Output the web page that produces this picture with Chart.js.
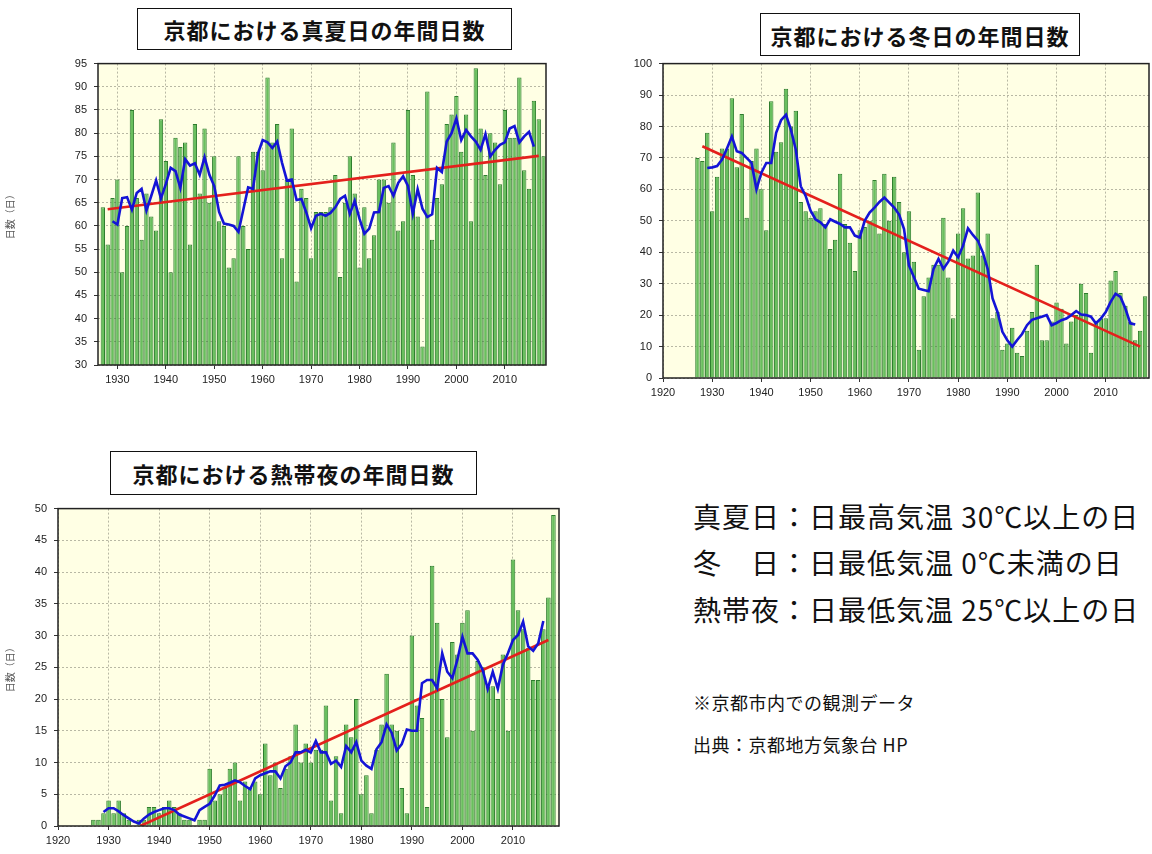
<!DOCTYPE html>
<html>
<head>
<meta charset="utf-8">
<script src="https://cdn.jsdelivr.net/npm/chart.js@4.4.0/dist/chart.umd.min.js"></script>
<style>
  body { margin: 0; width: 1152px; height: 854px; background: #fff; position: relative; overflow: hidden;
         font-family: "Noto Sans CJK JP", "Noto Sans", sans-serif; color: #111; }
  .box { position: absolute; border: 1.5px solid #111; background: #fff; font-weight: bold; font-size: 22px;
         display: flex; align-items: center; justify-content: center; box-sizing: border-box; letter-spacing: 1px; }
  .cv { position: absolute; }
  .note { position: absolute; left: 693px; font-size: 28px; white-space: nowrap; line-height: 1; letter-spacing: 1px; }
  .small { position: absolute; left: 693px; font-size: 18px; white-space: nowrap; line-height: 1; letter-spacing: 0.5px; }
</style>
</head>
<body>

<canvas id="hot" class="cv" width="560" height="340" style="left:0;top:50px"></canvas>
<canvas id="cold" class="cv" width="592" height="353" style="left:560px;top:50px"></canvas>
<canvas id="trop" class="cv" width="575" height="356" style="left:0;top:495px"></canvas>

<div class="box" style="left:137px;top:8px;width:375px;height:42px">京都における真夏日の年間日数</div>
<div class="box" style="left:760px;top:13px;width:320px;height:43px">京都における冬日の年間日数</div>
<div class="box" style="left:110px;top:451px;width:367px;height:44px">京都における熱帯夜の年間日数</div>

<div class="note" style="top:502px">真夏日：日最高気温 30℃以上の日</div>
<div class="note" style="top:548px">冬　日：日最低気温 0℃未満の日</div>
<div class="note" style="top:595px">熱帯夜：日最低気温 25℃以上の日</div>
<div class="small" style="top:693px">※京都市内での観測データ</div>
<div class="small" style="top:735px">出典：京都地方気象台 HP</div>

<script>
// 年（棒は各年に1本）
const years = [
  1927,1928,1929,1930,1931,1932,1933,1934,1935,1936,
  1937,1938,1939,1940,1941,1942,1943,1944,1945,1946,
  1947,1948,1949,1950,1951,1952,1953,1954,1955,1956,
  1957,1958,1959,1960,1961,1962,1963,1964,1965,1966,
  1967,1968,1969,1970,1971,1972,1973,1974,1975,1976,
  1977,1978,1979,1980,1981,1982,1983,1984,1985,1986,
  1987,1988,1989,1990,1991,1992,1993,1994,1995,1996,
  1997,1998,1999,2000,2001,2002,2003,2004,2005,2006,
  2007,2008,2009,2010,2011,2012,2013,2014,2015,2016,
  2017,2018
];
// 5年移動平均の年（1929〜2016）
const meanYears = years.slice(2, 90);

// 真夏日
const hotDays = [
  64,56,66,70,50,60,85,66,57,67,
  62,59,83,74,50,79,77,78,56,82,
  67,81,65,75,61,60,51,53,75,60,
  55,76,76,72,92,78,82,53,70,81,
  48,68,66,53,63,63,63,64,71,49,
  65,75,67,51,64,53,58,70,70,65,
  78,59,61,85,71,62,34,89,57,66,
  69,82,84,88,76,84,61,94,81,71,
  80,78,69,85,79,79,92,72,68,87,
  83,75
];
const hotMean = [
  61,60.3,66,66.2,63.5,67.1,68,63.3,
  66.5,69.8,65.9,69,72.5,71.8,68.2,74.4,73,73.5,
  71,74.8,71,68.6,63,60.5,60.3,60,58.7,63.5,
  68.3,68,75.5,78.5,78,76.8,78.2,73.6,69.8,70,
  65.6,65.8,62.9,59.5,62.2,62.6,62.2,62.8,64,65.8,
  66.5,62.6,65.4,61.5,58.3,59.4,62.9,63,68.2,68.6,
  66.5,69.3,70.7,68.6,62.6,67.9,63.7,61.9,62.5,72.5,
  71.6,78.2,80,83.2,78.5,80.7,79.3,78.2,76.4,79.8,
  75,76.4,77.5,78,81,81.5,78,79.3,80.3,77.1
];
const hotTrendX = [1928, 2017];
const hotTrendY = [63.6, 75.1];

// 冬日
const coldDays = [
  70,69,78,53,64,73,73,89,67,84,
  51,69,73,60,47,88,72,75,92,80,
  85,56,53,51,53,54,49,41,44,65,
  49,43,34,47,48,50,63,46,65,50,
  64,56,40,53,37,9,26,32,36,36,
  51,32,19,46,54,38,39,59,39,46,
  19,21,9,11,16,8,7,15,21,36,
  12,12,18,24,22,11,18,20,30,27,
  8,18,19,19,31,34,27,23,18,12,
  15,26
];
const coldMean = [
  66.8,67,67.4,69.5,73,76.8,72.1,71.6,
  70,68.4,60,65.3,68.4,68.4,78,82,83.7,79,
  72.6,61,57.9,53.2,50.5,49.5,47.9,50.5,49.7,49,
  47.9,47.9,45.3,44.7,50,52.6,54.2,56,57.4,55.8,
  54.2,52,47.4,35.8,32.1,28.4,28,27.6,34.7,37.9,
  34.7,37,40.5,38.4,42.1,47.6,45.5,43.7,40,34.7,
  25.3,21,14.7,12,10,12.1,14,16.8,18.5,19,
  19.5,20,16.8,17.5,18.4,18.9,20,21.3,20.2,20,
  19.5,17.4,18.9,21,24.2,26.8,25.8,22.1,17.4,17
];
const coldTrendX = [1928, 2017];
const coldTrendY = [73.7, 10];

// 熱帯夜
const tropNights = [
  1,1,2,4,2,4,2,1,0,1,
  1,3,3,2,3,4,3,2,1,1,
  0,1,1,9,4,5,6,9,10,4,
  7,6,7,5,13,8,10,6,9,11,
  16,10,13,10,12,12,19,4,11,2,
  16,14,20,5,8,2,12,16,24,16,
  15,6,2,30,19,17,3,41,32,20,
  14,29,27,32,34,15,26,25,22,22,
  20,27,15,42,34,31,28,23,23,31,
  36,49
];
const tropMean = [
  2.2,2.8,2.8,2.3,1.7,1.2,0.7,0.4,
  1.2,1.8,2.2,2.5,2.8,2.8,2.5,1.8,1.5,1.2,
  0.9,2.5,3,3.5,4.8,6.4,6.5,6.8,7.2,6.9,
  6.3,5.8,7.5,8,8.3,8.6,8.6,7.5,9.4,10,
  11.6,11.6,12,11.6,13.4,11.6,11.6,9.8,10.3,9.3,
  12.6,11.6,13.2,10.3,9.5,9,12.1,13.2,16,14.7,
  11.9,12.9,15.2,15,15,22.5,23,23,21.7,27.2,
  24.3,23.3,26.2,29.8,27.2,27.2,26.2,24.6,21.6,24.3,
  21.6,25.4,27.2,29.3,30.1,32.2,28.3,27.6,28.8,32.3
];
const tropTrendX = [1936.3, 2017];
const tropTrendY = [0, 29.3];

// 描画領域の背景と枠
const framePlugin = {
  id: 'frame',
  beforeDraw(chart) {
    const a = chart.chartArea, ctx = chart.ctx;
    ctx.save();
    ctx.fillStyle = '#ffffe4';
    ctx.fillRect(a.left, a.top, a.right - a.left, a.bottom - a.top);
    ctx.restore();
  },
  afterDraw(chart) {
    const a = chart.chartArea, ctx = chart.ctx;
    ctx.save();
    ctx.strokeStyle = '#222';
    ctx.lineWidth = 1.5;
    ctx.strokeRect(a.left, a.top, a.right - a.left, a.bottom - a.top);
    ctx.restore();
  }
};

const pts = (xs, ys) => ys.map((v, i) => ({ x: xs[i], y: v }));
const tickFont = { family: '"Liberation Sans", Arial, sans-serif', size: 11 };

function drawChart(id, o) {
  return new Chart(document.getElementById(id), {
    type: 'bar',
    data: {
      datasets: [
        { type: 'line', data: pts(meanYears, o.mean), borderColor: '#1414d6', borderWidth: 2.6,
          pointRadius: 0, tension: 0, order: 1 },
        { type: 'line', data: pts(o.trendX, o.trendY), borderColor: '#e4201c', borderWidth: 2.6,
          pointRadius: 0, order: 2 },
        { data: pts(years, o.bars), backgroundColor: '#69bf5e', borderColor: '#2e7d2e', borderWidth: 1,
          barPercentage: 0.9, categoryPercentage: 1, order: 3 }
      ]
    },
    options: {
      responsive: false,
      animation: false,
      layout: { padding: o.pad },
      plugins: { legend: { display: false }, tooltip: { enabled: false } },
      scales: {
        x: {
          type: 'linear', min: o.xMin, max: o.xMax, offset: false,
          grid: { color: '#b8b8a4', tickColor: '#333', tickLength: 4, offset: false },
          border: { display: false, dash: [2, 2] },
          ticks: { stepSize: 10, includeBounds: false, autoSkip: false, maxRotation: 0,
                   color: '#222', font: tickFont, padding: 4, callback: v => String(v) },
          afterFit: s => { s.height = 25; }
        },
        y: {
          min: o.yMin, max: o.yMax,
          grid: { color: '#b8b8a4', tickColor: '#333', tickLength: 4 },
          border: { display: false, dash: [2, 2] },
          ticks: { stepSize: o.yStep, color: '#222', font: tickFont, padding: 7 },
          title: { display: o.yTitle, text: '日数（日）', color: '#555',
                   font: { family: '"Noto Sans CJK JP", sans-serif', size: 10 } },
          afterFit: s => { s.width = o.yWidth; }
        }
      }
    },
    plugins: [framePlugin]
  });
}

drawChart('hot', {
  bars: hotDays, mean: hotMean, trendX: hotTrendX, trendY: hotTrendY,
  xMin: 1926, xMax: 2018.5, yMin: 30, yMax: 95, yStep: 5, yWidth: 98, yTitle: true,
  pad: { top: 9, right: 14, left: 0, bottom: 0 }
});
drawChart('cold', {
  bars: coldDays, mean: coldMean, trendX: coldTrendX, trendY: coldTrendY,
  xMin: 1920, xMax: 2018.8, yMin: 0, yMax: 100, yStep: 10, yWidth: 103, yTitle: false,
  pad: { top: 12, right: 3, left: 0, bottom: 0 }
});
drawChart('trop', {
  bars: tropNights, mean: tropMean, trendX: tropTrendX, trendY: tropTrendY,
  xMin: 1920, xMax: 2019.1, yMin: 0, yMax: 50, yStep: 5, yWidth: 58, yTitle: true,
  pad: { top: 11, right: 16, left: 0, bottom: 0 }
});
</script>
</body>
</html>
